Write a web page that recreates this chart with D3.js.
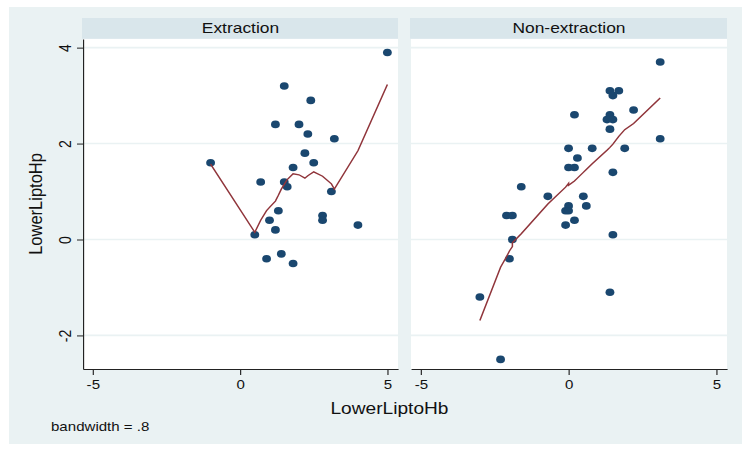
<!DOCTYPE html>
<html>
<head>
<meta charset="utf-8">
<script src="https://cdn.jsdelivr.net/npm/d3@7"></script>
<style>
  html, body { margin: 0; padding: 0; background: #ffffff; }
  svg { display: block; font-family: "Liberation Sans", Arial, Helvetica, sans-serif; }
</style>
</head>
<body>
<svg id="chart" width="742" height="451"></svg>
<script>
// Lower lip to H-line: Hb (x) vs Hp (y), by treatment group, with lowess smooth (bandwidth .8)

const panelNames = ["Extraction", "Non-extraction"];

// Extraction group observations
const extX = [5.0, 1.5, 2.4, 1.2, 2.0, 2.3, 3.2, 2.2, -1.0, 2.5, 1.8, 0.7, 1.5, 1.6, 3.1,
              1.3, 2.8, 2.8, 1.0, 4.0, 1.2, 0.5, 1.4, 0.9, 1.8];
const extY = [3.9, 3.2, 2.9, 2.4, 2.4, 2.2, 2.1, 1.8, 1.6, 1.6, 1.5, 1.2, 1.2, 1.1, 1.0,
              0.6, 0.5, 0.4, 0.4, 0.3, 0.2, 0.1, -0.3, -0.4, -0.5];

// Extraction group lowess fit
const extFitX = [-1.0, 0.5, 0.7, 0.9, 1.0, 1.2, 1.3, 1.4, 1.5, 1.6, 1.8, 2.0, 2.2, 2.3, 2.4, 2.5, 2.8, 3.1, 3.2, 4.0, 5.0];
const extFitY = [1.57, 0.15, 0.40, 0.60, 0.67, 0.80, 0.92, 1.05, 1.15, 1.25, 1.37, 1.35, 1.28, 1.33, 1.37, 1.41, 1.32, 1.16, 1.05, 1.85, 3.23];

// Non-extraction group observations
const nonX = [3.1, 1.4, 1.7, 1.5, 0.2, 2.2, 1.4, 1.3, 1.5, 1.4, 3.1, 0.0, 0.8, 1.9, 0.3,
              0.0, 0.2, 1.5, -1.6, -0.7, 0.5, 0.0, -0.1, 0.0, 0.6, 0.2, -0.1, -2.1, -1.9,
              -1.9, 1.5, -2.0, -3.0, 1.4, -2.3];
const nonY = [3.7, 3.1, 3.1, 3.0, 2.6, 2.7, 2.6, 2.5, 2.5, 2.3, 2.1, 1.9, 1.9, 1.9, 1.7,
              1.5, 1.5, 1.4, 1.1, 0.9, 0.9, 0.7, 0.6, 0.6, 0.7, 0.4, 0.3, 0.5, 0.5,
              0.0, 0.1, -0.4, -1.2, -1.1, -2.5];

// Non-extraction group lowess fit
const nonFitX = [-3.0, -2.3, -2.1, -2.0, -1.9, -1.9, -1.6, -0.7, -0.1, 0.0, 0.0, 0.2, 0.3, 0.5, 0.6, 0.8, 1.3, 1.4, 1.5, 1.7, 1.9, 2.2, 3.1];
const nonFitY = [-1.69, -0.58, -0.36, -0.24, -0.15, -0.07, 0.12, 0.74, 1.09, 1.17, 1.13, 1.22, 1.28, 1.40, 1.46, 1.58, 1.86, 1.92, 1.99, 2.15, 2.29, 2.42, 2.95];

const xTicks = [-5, 0, 5];
const yTicks = [-2, 0, 2, 4];
const xTitle = "LowerLiptoHb";
const yTitle = "LowerLiptoHp";
const note = "bandwidth = .8";

// ---- layout (horizontal positions in screen px; the drawing is stretched by SX) ----
const SX = 1.16;
const vx = v => v / SX;
const plotTop = 39, plotBottom = 369;
const stripTop = 18;
const panelsPx = [[83, 398], [411, 727]];

const COL_BG = "#eaf2f3";
const COL_STRIP = "#d9e6eb";
const COL_GRID = "#eaf2f3";
const COL_DOT = "#1a476f";
const COL_LINE = "#90353b";
const COL_AXIS = "#222222";

const svg = d3.select("#chart");
svg.append("rect").attr("x", 9).attr("y", 7).attr("width", 733).attr("height", 437).attr("fill", COL_BG);

const root = svg.append("g").attr("transform", `scale(${SX},1)`);

const y = d3.scaleLinear().domain([-2.7, 4.18]).range([plotBottom, plotTop]);

const panelData = [
  { pts: d3.zip(extX, extY), fit: d3.zip(extFitX, extFitY) },
  { pts: d3.zip(nonX, nonY), fit: d3.zip(nonFitX, nonFitY) }
];

panelNames.forEach((name, i) => {
  const [p0, p1] = panelsPx[i];
  const x = d3.scaleLinear().domain([-5.33, 5.36]).range([vx(p0), vx(p1)]);
  const g = root.append("g");

  // strip header
  g.append("rect").attr("x", vx(p0 - 1)).attr("y", stripTop)
    .attr("width", vx(p1 - p0 + 1)).attr("height", plotTop - stripTop - 0.3)
    .attr("fill", COL_STRIP);
  g.append("text").attr("x", (x.range()[0] + x.range()[1]) / 2).attr("y", 33.3)
    .attr("text-anchor", "middle").attr("font-size", 15).attr("fill", "#111")
    .text(name);

  // plot region
  g.append("rect").attr("x", vx(p0)).attr("y", plotTop)
    .attr("width", vx(p1 - p0)).attr("height", plotBottom - plotTop).attr("fill", "#fff");

  // horizontal grid
  g.append("g").selectAll("line").data(yTicks).join("line")
    .attr("x1", vx(p0)).attr("x2", vx(p1))
    .attr("y1", d => y(d)).attr("y2", d => y(d))
    .attr("stroke", COL_GRID).attr("stroke-width", 1.6);

  // x axis
  const xa = g.append("g").attr("transform", `translate(0,${plotBottom})`)
    .call(d3.axisBottom(x).tickValues(xTicks).tickSize(6).tickSizeOuter(0).tickFormat(d => String(d)));
  xa.select(".domain").attr("stroke", COL_AXIS);
  xa.selectAll(".tick line").attr("stroke", COL_AXIS);
  xa.selectAll(".tick text").attr("y", 20).attr("dy", 0).attr("font-size", 13)
    .attr("font-family", null).attr("fill", "#111");

  // y axis on the first panel only
  if (i === 0) {
    const ya = g.append("g").attr("transform", `translate(${vx(p0)},0)`)
      .call(d3.axisLeft(y).tickValues(yTicks).tickSize(vx(6)).tickSizeOuter(0).tickFormat(d => String(d)));
    ya.select(".domain").attr("stroke", COL_AXIS);
    ya.selectAll(".tick line").attr("stroke", COL_AXIS);
    ya.selectAll(".tick text")
      .attr("x", 0).attr("dy", 0).attr("text-anchor", "middle")
      .attr("font-size", 14).attr("font-family", null).attr("fill", "#111")
      .attr("transform", `translate(${-vx(p0 - 70.5)},0) rotate(-90)`);
  }

  // observations
  g.append("g").selectAll("circle").data(panelData[i].pts).join("circle")
    .attr("cx", d => x(d[0])).attr("cy", d => y(d[1])).attr("r", 3.8)
    .attr("fill", COL_DOT);

  // lowess fit
  g.append("path").datum(panelData[i].fit)
    .attr("d", d3.line().x(d => x(d[0])).y(d => y(d[1])))
    .attr("fill", "none").attr("stroke", COL_LINE).attr("stroke-width", 1.3);
});

// axis titles and note
root.append("text").attr("x", vx(389.5)).attr("y", 414)
  .attr("text-anchor", "middle").attr("font-size", 16.5).attr("fill", "#111").text(xTitle);
root.append("text")
  .attr("transform", `translate(${vx(41.5)},${(plotTop + plotBottom) / 2}) rotate(-90)`)
  .attr("text-anchor", "middle").attr("font-size", 16.5).attr("fill", "#111").text(yTitle);
root.append("text").attr("x", vx(51)).attr("y", 431.5)
  .attr("font-size", 13).attr("fill", "#111").text(note);
</script>
</body>
</html>
